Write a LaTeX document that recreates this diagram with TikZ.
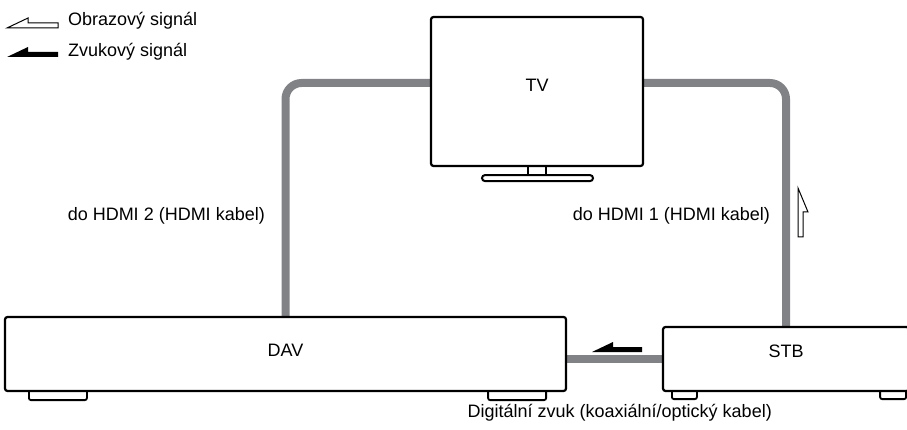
\documentclass[tikz,border=0pt]{standalone}
\usepackage{fontspec}
\setmainfont{Liberation Sans}
\usetikzlibrary{arrows.meta,backgrounds}
\definecolor{cablegray}{RGB}{128,130,133}

\begin{document}
\begin{tikzpicture}[x=1pt, y=-1pt,
  box/.style={draw, line width=2.2pt, rounded corners=2.5pt, fill=white, inner sep=0pt},
  cable/.style={draw=cablegray, line width=8pt, rounded corners=16pt},
  foot/.style={line width=1.8pt, rounded corners=2pt},
  txt/.style={inner sep=0pt, font=\fontsize{18}{22}\selectfont},
  halfarrow/.style={line width=1pt, line join=miter}]
  \useasboundingbox (0,0) rectangle (907,430);

  % legend
  \draw[halfarrow] (7,28) -- (28,18) -- (28,23) -- (58,23) -- (58,28) -- cycle;
  \fill (7,57) -- (28,47) -- (28,52) -- (58,52) -- (58,57) -- cycle;
  \node[txt, anchor=base west] (video) at (68,26) {Obrazový signál};
  \node[txt, anchor=base west] (audio) at (68,57) {Zvukový signál};

  % devices
  \node[box, minimum width=212pt, minimum height=149pt] (TV) at (537,91.5) {};
  \node[box, minimum width=561pt, minimum height=74pt] (DAV) at (285.5,354) {};
  \node[box, minimum width=246pt, minimum height=64pt] (STB) at (786,359) {};
  \node[txt, anchor=base] (tvtext) at ([yshift=-0.5pt]TV.center) {TV};
  \node[txt, anchor=base] (davtext) at ([yshift=-2.5pt]DAV.center) {DAV};
  \node[txt, anchor=base] (stbtext) at ([yshift=2pt]STB.center) {STB};

  % tv stand
  \draw[line width=2pt] ([xshift=-9pt]TV.south) -- ++(0,8) ([xshift=9pt]TV.south) -- ++(0,8);
  \draw[line width=2pt, rounded corners=3pt] ([xshift=-55pt,yshift=-8pt]TV.south) rectangle ([xshift=56pt,yshift=-14pt]TV.south);

  % feet
  \draw[foot] ([xshift=25pt]DAV.south west) -- ++(0,8) -- ++(58,0) -- ++(0,-8);
  \draw[foot] ([xshift=-21pt]DAV.south east) -- ++(0,8) -- ++(-58,0) -- ++(0,-8);
  \draw[foot] ([xshift=10pt]STB.south west) -- ++(0,7) -- ++(25,0) -- ++(0,-7);
  \draw[foot] ([xshift=-4pt]STB.south east) -- ++(0,7) -- ++(-26,0) -- ++(0,-7);

  % cables
  \begin{scope}[on background layer]
    \draw[cable] ([yshift=8.5pt]TV.west) -| (DAV.north);
    \draw[cable] ([yshift=8.5pt]TV.east) -| (STB.north);
    \draw[cable] (DAV.east |- STB.west) -- (STB.west);
  \end{scope}

  % signal direction
  \fill (592,352) -- (613,342) -- (613,347) -- (642,347) -- (642,352) -- cycle;
  \draw[halfarrow] (798,188) -- (808,212) -- (803,212) -- (803,237) -- (798,237) -- cycle;

  \node[txt, anchor=base east] (hdmi2) at (265,221) {do HDMI 2 (HDMI kabel)};
  \node[txt, anchor=base east] (hdmi1) at (770,221) {do HDMI 1 (HDMI kabel)};
  \node[txt, anchor=base east] (digital) at (772,417) {Digitální zvuk (koaxiální/optický kabel)};
\end{tikzpicture}
\end{document}
